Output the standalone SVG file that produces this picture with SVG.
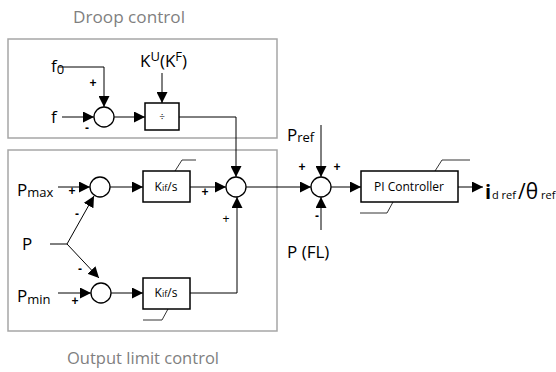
<svg xmlns="http://www.w3.org/2000/svg" width="556" height="372" viewBox="0 0 556 372">
<defs>
<marker id="arr" viewBox="0 0 10 10" refX="10" refY="5" markerWidth="11" markerHeight="11" markerUnits="userSpaceOnUse" orient="auto">
<path d="M0,0 L10,5 L0,10 z" fill="#000"/>
</marker>
<style>
text{font-family:"Open Sans","Liberation Sans",sans-serif;fill:#000}
.title{font-size:17px;fill:#7f7f7f;text-anchor:middle}
.lbl{font-size:17px}
.sub{font-size:13px}
.sgn{font-family:"Liberation Sans",sans-serif;font-size:12px;font-weight:bold;text-anchor:middle;fill:#000}
.blk{font-size:12px;text-anchor:middle}
.frame{fill:none;stroke:#a6a6a6;stroke-width:1.5}
.box{fill:#fff;stroke:#000;stroke-width:1.5}
.sum{fill:#fff;stroke:#000;stroke-width:1.3}
.wire{fill:none;stroke:#000;stroke-width:1}
.lim{fill:none;stroke:#000;stroke-width:0.8}
</style>
</defs>
<rect width="556" height="372" fill="#fff"/>

<g id="droop-frame">
<rect class="frame" x="8" y="39" width="269" height="99"/>
<text class="title" x="129" y="23" textLength="112" lengthAdjust="spacingAndGlyphs">Droop control</text>
</g>
<g id="limit-frame">
<rect class="frame" x="8" y="150" width="269" height="181"/>
<text class="title" x="143" y="364" textLength="152" lengthAdjust="spacingAndGlyphs">Output limit control</text>
</g>

<g id="connectors">
<path class="wire" d="M58,67 H104 V107" marker-end="url(#arr)"/>
<path class="wire" d="M62,117 H94" marker-end="url(#arr)"/>
<path class="wire" d="M114,117 H145" marker-end="url(#arr)"/>
<path class="wire" d="M162,73 V103" marker-end="url(#arr)"/>
<path class="wire" d="M179,117 H236 V177" marker-end="url(#arr)"/>
<path class="wire" d="M58,187 H90" marker-end="url(#arr)"/>
<path class="wire" d="M110,187 H143" marker-end="url(#arr)"/>
<path class="wire" d="M190,187 H226" marker-end="url(#arr)"/>
<path class="wire" d="M50,244 H67"/>
<path class="wire" d="M67,244 L94,196" marker-end="url(#arr)"/>
<path class="wire" d="M67,244 L99,278" marker-end="url(#arr)"/>
<path class="wire" d="M58,293 H91" marker-end="url(#arr)"/>
<path class="wire" d="M111,293 H143" marker-end="url(#arr)"/>
<path class="wire" d="M190,293 H237 V197" marker-end="url(#arr)"/>
<path class="wire" d="M246,187 H311" marker-end="url(#arr)"/>
<path class="wire" d="M321,125 V177" marker-end="url(#arr)"/>
<path class="wire" d="M321,230 V197" marker-end="url(#arr)"/>
<path class="wire" d="M331,187 H361" marker-end="url(#arr)"/>
<path class="wire" d="M458,187 H483" marker-end="url(#arr)"/>
</g>

<g id="sum-droop"><circle class="sum" cx="104" cy="117" r="10"/></g>
<g id="sum-max"><circle class="sum" cx="100" cy="187" r="10"/></g>
<g id="sum-min"><circle class="sum" cx="101" cy="293" r="10"/></g>
<g id="sum-limit"><circle class="sum" cx="236" cy="187" r="10"/></g>
<g id="sum-p"><circle class="sum" cx="321" cy="187" r="10"/></g>

<g id="div-block">
<rect class="box" x="145" y="103" width="34" height="27"/>
<text class="blk" x="162" y="121" style="font-size:10px">÷</text>
</g>
<g id="kif-upper">
<rect class="box" x="143" y="171" width="47" height="31"/>
<text class="blk" x="166" y="191">K<tspan style="font-size:9px">if</tspan>/s</text>
<path class="lim" d="M175,171 L182,160 H196"/>
</g>
<g id="kif-lower">
<rect class="box" x="143" y="278" width="47" height="31"/>
<text class="blk" x="166" y="297">K<tspan style="font-size:9px">if</tspan>/s</text>
<path class="lim" d="M168,309 L162,320 H143"/>
</g>
<g id="pi">
<rect class="box" x="361" y="171" width="97" height="31"/>
<text class="blk" x="409" y="191">PI Controller</text>
<path class="lim" d="M435,171 L442,160 H470"/>
<path class="lim" d="M393,202 L387,213 H360"/>
</g>

<g id="labels">
<text class="lbl" x="51" y="72">f<tspan class="sub" dy="2">0</tspan></text>
<text class="lbl" x="51" y="123">f</text>
<text class="lbl" x="140" y="67">K<tspan class="sub" dy="-6">U</tspan><tspan dy="6">(K</tspan><tspan class="sub" dy="-6">F</tspan><tspan dy="6">)</tspan></text>
<text class="lbl" x="17" y="196">P<tspan class="sub" dy="1">max</tspan></text>
<text class="lbl" x="22" y="250">P</text>
<text class="lbl" x="17" y="302">P<tspan class="sub" dy="2">min</tspan></text>
<text class="lbl" x="287" y="141">P<tspan class="sub" dy="1">ref</tspan></text>
<text class="lbl" x="287" y="258">P (FL)</text>
<text x="485" y="199" style="font-size:20px;font-weight:bold">i<tspan x="492" style="font-size:11px;font-weight:normal">d ref</tspan><tspan x="518" style="font-size:21px;font-weight:normal">/θ</tspan><tspan x="541" style="font-size:11px;font-weight:normal">ref</tspan></text>
</g>

<g id="signs">
<text class="sgn" x="93" y="87">+</text>
<text class="sgn" x="87" y="132">-</text>
<text class="sgn" x="72" y="195">+</text>
<text class="sgn" x="77" y="218">-</text>
<text class="sgn" x="80" y="273">-</text>
<text class="sgn" x="75" y="305">+</text>
<text class="sgn" x="205" y="196">+</text>
<text class="sgn" x="226" y="223" style="font-weight:normal">+</text>
<text class="sgn" x="302" y="171">+</text>
<text class="sgn" x="337" y="171">+</text>
<text class="sgn" x="317" y="220">-</text>
</g>
</svg>
